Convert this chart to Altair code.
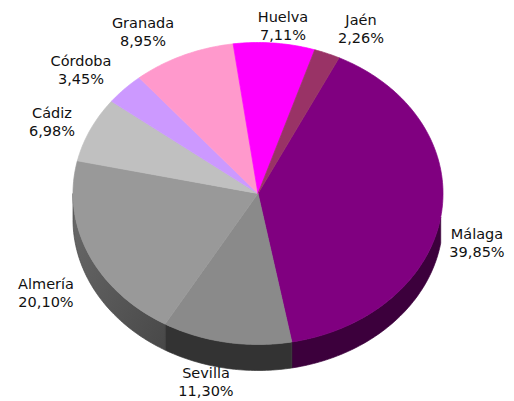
import math
import altair as alt
import pandas as pd

# --- chart values
provinces = ["Málaga", "Sevilla", "Almería", "Cádiz", "Córdoba", "Granada", "Huelva", "Jaén"]
shares = [39.85, 11.30, 20.10, 6.98, 3.45, 8.95, 7.11, 2.26]
share_labels = ["39,85%", "11,30%", "20,10%", "6,98%", "3,45%", "8,95%", "7,11%", "2,26%"]
top_colors = ["#800080", "#8a8a8a", "#999999", "#c0c0c0", "#cc99ff", "#ff99cc", "#ff00ff", "#993366"]

# --- layout
W, H = 498, 393
CX, CY, RX, RY = 250, 185.5, 185, 151
DEPTH = 26 / RY
START = 26.0
FONT = "DejaVu Sans"
FONT_SIZE = 14.5
label_centres = {
    "Málaga": (469, 227), "Sevilla": (198, 366), "Almería": (38, 277), "Cádiz": (44, 106),
    "Córdoba": (73, 54), "Granada": (135, 16), "Huelva": (275, 10), "Jaén": (353, 13),
}
LINE = 18
x_scale = alt.Scale(domain=[-CX / RX, (W - CX) / RX], range=[0, W], nice=False, zero=False)
y_scale = alt.Scale(domain=[-(H - CY) / RY, CY / RY], range=[H, 0], nice=False, zero=False)


def rim(a0, a1, dy=0.0):
    n = max(2, int(abs(a1 - a0)) + 1)
    out = []
    for i in range(n + 1):
        a = math.radians(a0 + (a1 - a0) * i / n)
        out.append((math.sin(a), math.cos(a) - dy))
    return out


def polygon(points, fill, stroke=None):
    df = pd.DataFrame(points, columns=["x", "y"])
    df["k"] = range(len(df))
    return alt.Chart(df).mark_line(fill=fill, stroke=stroke or "transparent", strokeWidth=0.7).encode(
        x=alt.X("x:Q", scale=x_scale, axis=None),
        y=alt.Y("y:Q", scale=y_scale, axis=None),
        order="k:Q",
    )


spans = {}
angle = START
for name, share in zip(provinces, shares):
    spans[name] = (angle, angle + share * 3.6)
    angle += share * 3.6

wall_spec = [
    ("Málaga", "#3c003c", "#3c003c", 99),
    ("Sevilla", "#333333", "#333333", None),
    ("Almería", "#484848", "#6a6a6a", 270),
]
layers = []
for name, c0, c1, limit in wall_spec:
    a0, a1 = spans[name]
    if name == "Málaga":
        a0 = limit
    if name == "Almería":
        a1 = limit
    pts = rim(a0, a1) + rim(a1, a0, DEPTH)
    fill = c0 if c0 == c1 else alt.Gradient(
        gradient="linear", x1=1, y1=1, x2=0, y2=0,
        stops=[alt.GradientStop(color=c0, offset=0), alt.GradientStop(color=c1, offset=1)],
    )
    layers.append(polygon(pts + pts[:1], fill, c0))

for name, color in zip(provinces, top_colors):
    a0, a1 = spans[name]
    pts = [(0.0, 0.0)] + rim(a0, a1) + [(0.0, 0.0)]
    layers.append(polygon(pts, color, color))

rows = []
for name, pct in zip(provinces, share_labels):
    px, py = label_centres[name]
    rows.append({"t": name, "px": px, "py": py})
    rows.append({"t": pct, "px": px, "py": py + LINE})
labels = alt.Chart(pd.DataFrame(rows)).mark_text(
    font=FONT, fontSize=FONT_SIZE, color="#111111", align="center", baseline="middle"
).encode(
    x=alt.X("px:Q", scale=None, axis=None),
    y=alt.Y("py:Q", scale=None, axis=None),
    text="t:N",
)

chart = alt.layer(*layers).resolve_scale(x="shared", y="shared")
chart = alt.layer(chart, labels).resolve_scale(x="independent", y="independent").properties(
    width=W, height=H, padding=0, autosize=alt.AutoSizeParams(type="none")
).configure_view(stroke=None)
chart.save("out.html", embed_options={"renderer": "svg", "actions": False})
